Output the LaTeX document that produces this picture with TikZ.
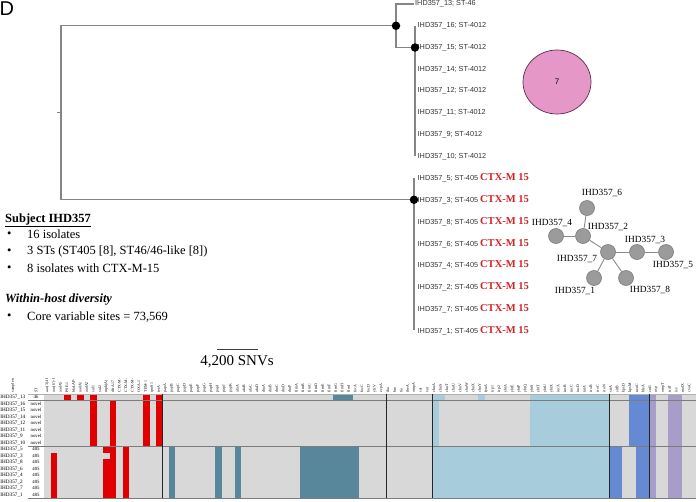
\documentclass[tikz,border=0pt]{standalone}
\usepackage{fontspec}
\setmainfont{Liberation Serif}
\newfontfamily\arialf{Liberation Sans}
\usetikzlibrary{shapes.geometric}
\definecolor{treegray}{HTML}{858585}
\definecolor{tiptext}{HTML}{333333}
\definecolor{ctxred}{HTML}{D42020}
\definecolor{clpink}{HTML}{E597C7}
\definecolor{clpinkedge}{HTML}{5B2D4F}
\definecolor{netfill}{HTML}{9B9B9B}
\definecolor{netdraw}{HTML}{7A7A7A}
\definecolor{netline}{HTML}{8A8A8A}
\definecolor{hmgray}{HTML}{D8D8D8}
\definecolor{hmred}{HTML}{E00000}
\definecolor{hmteal}{HTML}{58869A}
\definecolor{hmlblue}{HTML}{A7CCDB}
\definecolor{hmblue}{HTML}{6589D3}
\definecolor{hmpurple}{HTML}{A89CC9}
\definecolor{hmsep}{HTML}{7C7C7C}
\newcommand\tipfont{\arialf\fontsize{7.3}{8}\selectfont}
\newcommand\ctxf{\rmfamily\bfseries\fontsize{10.5}{11}\selectfont\color{ctxred}}
\newcommand\hm[5]{\fill[#1] (#2,{394+6.5*#4}) rectangle (#3,{394+6.5*(#5+1)});}
\begin{document}
\begin{tikzpicture}[x=1pt,y=-1pt,
  branch/.style={draw=treegray,line width=1.1pt},
  tip/.style={anchor=west,inner sep=1.5pt,font=\tipfont,text=tiptext},
  dot/.style={circle,fill=black,inner sep=0pt,minimum size=8.5pt},
  netnode/.style={circle,fill=netfill,draw=netdraw,line width=0.6pt,minimum size=15pt,inner sep=0pt},
  netlab/.style={inner sep=0.5pt,font=\fontsize{9.4}{10}\selectfont},
  netedge/.style={draw=netline,line width=0.9pt},
  bodytext/.style={anchor=west,inner sep=0pt,font=\fontsize{12.5}{14}\selectfont},
  rowlab/.style={anchor=west,inner sep=0.3pt,font=\fontsize{5.2}{5.5}\selectfont},
  stlab/.style={inner sep=0pt,font=\fontsize{4.8}{5}\selectfont},
  collab/.style={rotate=90,anchor=west,inner sep=0pt,font=\fontsize{3.9}{4}\selectfont},
  sepline/.style={draw=hmsep,line width=0.9pt},
  blockline/.style={draw=black!85,line width=0.9pt}]
\useasboundingbox (0,0) rectangle (696,501);

% panel letter
\node[anchor=north west,inner sep=0pt,font=\arialf\fontsize{20}{20}\selectfont] (panel) at (-0.5,2) {D};

% ---------- tree ----------
\node[tip] (t13) at (413.5,4) {IHD357\_13; ST-46};
\foreach \n/\k in {16/1,15/2,14/3,12/4,11/5,9/6,10/7}
  \node[tip] (t\n) at (416,{4+21.75*\k}) {IHD357\_\n; ST-4012};
\foreach \n/\k in {5/8,3/9,8/10,6/11,4/12,2/13,7/14,1/15}
  \node[tip] (t\n) at (416,{4+21.75*\k}) {IHD357\_\n; ST-405\hspace{2pt}{\ctxf CTX-M 15}};

\coordinate (A) at (396,25.75);
\coordinate (B) at (415,47.5);
\coordinate (C) at (414,199.75);
\coordinate (root) at (61,112.75);
\coordinate (rootstem) at (57,112.75);

\draw[branch] (A) -| (root) |- (C);
\draw[branch] (root) -- (rootstem);
\draw[branch] (A) |- (t13.west);
\draw[branch] (A) |- (B);
\draw[branch] (B |- t16.west) -- (B |- t10.west);
\draw[branch] (C |- t5.west) -- (C |- t1.west);
\node[dot] (dA) at (A) {};
\node[dot] (dB) at (B) {};
\node[dot] (dC) at (C) {};

% cluster circle
\node[ellipse,draw=clpinkedge,fill=clpink,line width=0.7pt,minimum width=68pt,minimum height=64pt,inner sep=0pt,font=\arialf\fontsize{8}{9}\selectfont] (clus) at (557,82) {7};

% ---------- network ----------
\node[netnode] (n6) at (587,208) {};
\node[netnode] (n2) at (583,236) {};
\node[netnode] (n4) at (556,236) {};
\node[netnode] (n7) at (608,252) {};
\node[netnode] (n3) at (637,252) {};
\node[netnode] (n5) at (666,252) {};
\node[netnode] (n1) at (594,278) {};
\node[netnode] (n8) at (626,278) {};
\draw[netedge] (n6) -- (n2);
\draw[netedge] (n4) -- (n2);
\draw[netedge] (n2) -- (n7);
\draw[netedge] (n7) -- (n3);
\draw[netedge] (n3) -- (n5);
\draw[netedge] (n7) -- (n1);
\draw[netedge] (n7) -- (n8);
\node[netlab] (l6) at (602,193) {IHD357\_6};
\node[netlab] (l2) at (608,227) {IHD357\_2};
\node[netlab] (l4) at (552,223) {IHD357\_4};
\node[netlab] (l7) at (577,259) {IHD357\_7};
\node[netlab] (l3) at (645,240) {IHD357\_3};
\node[netlab] (l5) at (673,265) {IHD357\_5};
\node[netlab] (l1) at (575,291) {IHD357\_1};
\node[netlab] (l8) at (650,290) {IHD357\_8};

% ---------- text block ----------
\node[bodytext,font=\fontsize{12.5}{14}\selectfont\bfseries] (subj) at (5,220) {\underline{Subject IHD357}};
\node[bodytext] (b1) at (7,234.3) {•};
\node[bodytext] (s1) at (27,234.3) {16 isolates};
\node[bodytext] (b2) at (7,251.7) {•};
\node[bodytext] (s2) at (27,251.7) {3 STs (ST405 [8], ST46/46-like [8])};
\node[bodytext] (b3) at (7,268.3) {•};
\node[bodytext] (s3) at (27,268.3) {8 isolates with CTX-M-15};
\node[bodytext,font=\fontsize{12.5}{14}\selectfont\bfseries\itshape] (wh) at (5,300) {Within-host diversity};
\node[bodytext] (b4) at (7,316.7) {•};
\node[bodytext] (s4) at (27,316.7) {Core variable sites = 73,569};

% scale bar
\coordinate (sbL) at (217,349);
\coordinate (sbR) at (258,349);
\draw[line width=0.8pt,draw=black!75] (sbL) -- (sbR);
\node[inner sep=0pt,font=\fontsize{15}{16}\selectfont] (sbt) at (237,362) {4,200 SNVs};

% ---------- heatmap ----------
\fill[hmgray] (44,394) rectangle (696,498);
% red
\hm{hmred}{64}{70.5}{0}{0}
\hm{hmred}{77}{83.5}{0}{0}
\hm{hmred}{90}{96.5}{0}{7}
\hm{hmred}{143}{149.5}{0}{7}
\hm{hmred}{155.5}{162}{0}{7}
\hm{hmred}{109.5}{116}{1}{15}
\hm{hmred}{50.5}{57}{9}{15}
\hm{hmred}{103}{109.5}{8}{8}
\hm{hmred}{103}{109.5}{10}{15}
\hm{hmred}{122.5}{129}{8}{15}
% teal
\hm{hmteal}{333}{353}{0}{0}
\hm{hmteal}{168.5}{175}{8}{15}
\hm{hmteal}{215}{221.5}{8}{15}
\hm{hmteal}{234.5}{241}{8}{15}
\hm{hmteal}{300}{359}{8}{15}
% light blue
\hm{hmlblue}{432}{445}{0}{0}
\hm{hmlblue}{478}{484.5}{0}{0}
\hm{hmlblue}{530}{609}{0}{0}
\hm{hmlblue}{432}{438.5}{1}{7}
\hm{hmlblue}{530}{609}{1}{7}
\hm{hmlblue}{432}{609}{8}{15}
% blue
\hm{hmblue}{629}{649}{0}{7}
\hm{hmblue}{609}{622}{8}{15}
\hm{hmblue}{636}{649}{8}{15}
% purple
\hm{hmpurple}{649}{655.5}{0}{15}
\hm{hmpurple}{668}{681.5}{0}{15}

% separators
\draw[draw=hmsep!60,line width=0.5pt] (28,394) -- (696,394);
\draw[sepline] (28,400.5) -- (696,400.5);
\draw[sepline] (28,446) -- (696,446);
\draw[sepline] (28,498.3) -- (696,498.3);
\foreach \xx in {162,386,432,609,649}
  \draw[blockline] (\xx,394) -- (\xx,498);

% row labels
\foreach \n/\s [count=\i from 0] in {13/46,16/novel,15/novel,14/novel,12/novel,11/novel,9/novel,10/novel,5/405,3/405,8/405,6/405,4/405,2/405,7/405,1/405} {
  \node[rowlab] (r\n) at (0,{394+6.5*\i+3.25}) {IHD357\_\n};
  \node[stlab] (st\n) at (36,{394+6.5*\i+3.25}) {\s};
}

% column headers
\begin{scope}
\clip (0,378) rectangle (696,393.5);
\node[collab] (hsample) at (13,392.5) {sample name};
\node[collab] (hst) at (36,392.5) {ST};
\foreach \g [count=\i from 0] in {aac(3)-IId,aac(6')-Ib-cr,aadA5,PSE-1,blaLAP-2,aadA1,aadA2,sul1,sul2,mph(A),dfrA17,CTX-M-14,CTX-M-15,CTX-M-27,OXA-1,TEM-1,qnrS1,tetA,papA,papB,papC,papD,papE,papF,papG,papH,papI,papJ,papK,afaA,afaB,afaC,afaD,draA,draB,draC,draD,draP,fimA,fimB,fimC,fimD,fimE,fimF,fimG,fimH,fimI,focA,focC,focD,yfcV,ecpA,iha,hra,tia,ibeA,ompA,sat,vat,chuA,chuS,chuT,chuU,chuV,chuW,chuX,chuY,fyuA,irp1,irp2,ybtA,ybtE,ybtP,ybtQ,ybtS,ybtT,ybtU,ybtX,iucA,iucB,iucC,iucD,iutA,iroB,iroC,iroN,sitA,sitB,kpsD,kpsM,neuC,hlyA,cnf1,usp,ompT,traT,iss,malX,cvaC}
  \node[collab] (h\i) at ({44+6.55*(\i+0.5)},392.5) {\g};
\end{scope}
\end{tikzpicture}
\end{document}
